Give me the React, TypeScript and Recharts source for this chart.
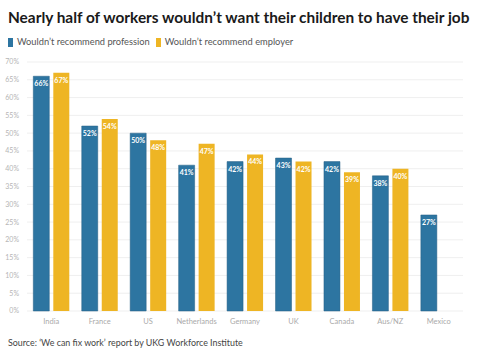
import { Bar, BarChart, CartesianGrid, LabelList, XAxis, YAxis } from "recharts";

const countries = ["India", "France", "US", "Netherlands", "Germany", "UK", "Canada", "Aus/NZ", "Mexico"];
const profession = [66, 52, 50, 41, 42, 43, 42, 38, 27];
const employer: (number | null)[] = [67, 54, 48, 47, 44, 42, 39, 40, null];
const yTicks = [0, 5, 10, 15, 20, 25, 30, 35, 40, 45, 50, 55, 60, 65, 70];

const BLUE = "#2d75a1";
const YELLOW = "#eeb524";
const FONT = "Lato, 'Open Sans', sans-serif";

const data = countries.map((name, i) => ({ name, profession: profession[i], employer: employer[i] }));

const pct = (v: unknown) => (v == null ? "" : `${v}%`);

export default function App() {
  return (
    <div style={{ position: "absolute", left: 0, top: 0, width: 478, height: 360, background: "#fff", fontFamily: FONT, overflow: "hidden" }}>
      <div style={{ position: "absolute", left: 8, top: 8, fontSize: 15.4, lineHeight: "19px", fontWeight: 700, color: "#1a1a1a", whiteSpace: "nowrap" }}>
        Nearly half of workers wouldn’t want their children to have their job
      </div>
      <div style={{ position: "absolute", left: 8, top: 36, fontSize: 9.3, lineHeight: "12px", color: "#555", display: "flex", alignItems: "center", whiteSpace: "nowrap" }}>
        <span style={{ display: "inline-block", width: 5, height: 9, background: BLUE, marginRight: 4 }} />
        <span style={{ marginRight: 6 }}>Wouldn’t recommend profession</span>
        <span style={{ display: "inline-block", width: 5, height: 9, background: YELLOW, marginRight: 4 }} />
        <span>Wouldn’t recommend employer</span>
      </div>
      <div style={{ position: "absolute", left: 0, top: 0 }}>
        <BarChart width={478} height={360} data={data} margin={{ top: 62, right: 15, bottom: 29, left: 0 }} barCategoryGap="13%" barGap={4}>
          <CartesianGrid stroke="#efefef" vertical={false} />
          <YAxis
            domain={[0, 70]}
            ticks={yTicks}
            width={27}
            tickLine={false}
            axisLine={false}
            tickFormatter={(v) => `${v}%`}
            tick={{ fontSize: 7, fill: "#b5b5b5", fontFamily: FONT }}
            interval={0}
          />
          <XAxis
            dataKey="name"
            height={20}
            tickLine={false}
            axisLine={false}
            interval={0}
            tick={{ fontSize: 7.5, fill: "#aaaaaa", fontFamily: FONT }}
          />
          <Bar dataKey="profession" fill={BLUE} stroke="#245f84" strokeWidth={0.5} isAnimationActive={false}>
            <LabelList dataKey="profession" position="insideTop" formatter={pct} fill="#fff" fontSize={7} fontWeight={700} fontFamily={FONT} />
          </Bar>
          <Bar dataKey="employer" fill={YELLOW} isAnimationActive={false}>
            <LabelList dataKey="employer" position="insideTop" formatter={pct} fill="#fff" fontSize={7} fontWeight={700} fontFamily={FONT} />
          </Bar>
        </BarChart>
      </div>
      <div style={{ position: "absolute", left: 8, top: 337, fontSize: 8.9, lineHeight: "12px", color: "#444", whiteSpace: "nowrap" }}>
        Source: ‘We can fix work’ report by UKG Workforce Institute
      </div>
    </div>
  );
}
